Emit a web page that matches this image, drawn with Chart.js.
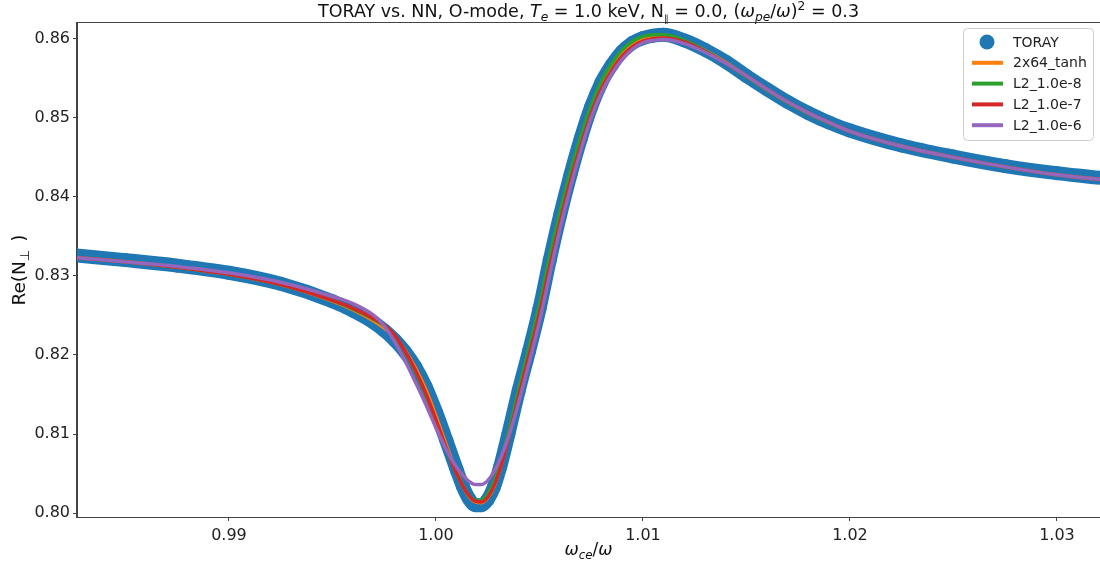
<!DOCTYPE html>
<html>
<head>
<meta charset="utf-8">
<script src="https://cdn.jsdelivr.net/npm/chart.js@4.4.0/dist/chart.umd.min.js"></script>
<style>
  html, body { margin: 0; padding: 0; background: #fff; }
  canvas { display: block; }
</style>
</head>
<body>
<canvas id="dispersion" width="1100" height="570"></canvas>
<script>
// omega_ce / omega
const xGrid = [0.9826, 0.9850, 0.9875, 0.9900, 0.9925, 0.9950, 0.9960, 0.9970, 0.9975, 0.9980,
  0.9985, 0.9990, 0.9995, 1.0000, 1.0005, 1.0010, 1.0013, 1.0016, 1.0019, 1.0022,
  1.0025, 1.0028, 1.0031, 1.0035, 1.0040, 1.0045, 1.0050, 1.0055, 1.0060, 1.0065,
  1.0070, 1.0075, 1.0080, 1.0085, 1.0090, 1.0095, 1.0100, 1.0105, 1.0110, 1.0120,
  1.0130, 1.0140, 1.0150, 1.0160, 1.0170, 1.0180, 1.0190, 1.0200, 1.0225, 1.0250,
  1.0275, 1.0300, 1.0325];

// Re(N_perp) per model
const torayRe = [0.8326, 0.8320, 0.8313, 0.8304, 0.8290, 0.8268, 0.8256, 0.8241, 0.8231, 0.8219,
  0.8204, 0.8185, 0.8160, 0.8128, 0.8092, 0.8055, 0.8034, 0.8018, 0.8010, 0.8010,
  0.8017, 0.8033, 0.8058, 0.8100, 0.8155, 0.8205, 0.8258, 0.8320, 0.8377, 0.8428,
  0.8474, 0.8514, 0.8545, 0.8567, 0.8584, 0.8595, 0.8601, 0.8604, 0.8605, 0.8598,
  0.8586, 0.8571, 0.8553, 0.8536, 0.8520, 0.8506, 0.8494, 0.8484, 0.8465, 0.8451,
  0.8439, 0.8430, 0.8423];
const tanhRe = [0.8323, 0.8318, 0.8311, 0.8302, 0.8289, 0.8268, 0.8257, 0.8243, 0.8234, 0.8223,
  0.8206, 0.8184, 0.8157, 0.8123, 0.8086, 0.8052, 0.8034, 0.8021, 0.8014, 0.8013,
  0.8019, 0.8033, 0.8056, 0.8095, 0.8150, 0.8202, 0.8255, 0.8316, 0.8372, 0.8424,
  0.8469, 0.8509, 0.8541, 0.8564, 0.8581, 0.8592, 0.8599, 0.8602, 0.8603, 0.8597,
  0.8585, 0.8570, 0.8553, 0.8536, 0.8520, 0.8506, 0.8494, 0.8483, 0.8464, 0.8450,
  0.8438, 0.8428, 0.8421];
const l2e8Re = [0.8323, 0.8318, 0.8311, 0.8302, 0.8289, 0.8269, 0.8258, 0.8245, 0.8237, 0.8224,
  0.8204, 0.8179, 0.8150, 0.8116, 0.8081, 0.8050, 0.8034, 0.8022, 0.8016, 0.8016,
  0.8024, 0.8039, 0.8062, 0.8102, 0.8157, 0.8210, 0.8264, 0.8326, 0.8382, 0.8433,
  0.8477, 0.8516, 0.8547, 0.8569, 0.8586, 0.8597, 0.8603, 0.8605, 0.8605, 0.8598,
  0.8585, 0.8569, 0.8552, 0.8535, 0.8519, 0.8505, 0.8493, 0.8483, 0.8464, 0.8450,
  0.8438, 0.8428, 0.8421];
const l2e7Re = [0.8323, 0.8318, 0.8311, 0.8302, 0.8289, 0.8269, 0.8259, 0.8246, 0.8238, 0.8225,
  0.8205, 0.8181, 0.8152, 0.8118, 0.8082, 0.8050, 0.8034, 0.8022, 0.8015, 0.8014,
  0.8020, 0.8034, 0.8056, 0.8094, 0.8148, 0.8199, 0.8252, 0.8312, 0.8368, 0.8420,
  0.8465, 0.8505, 0.8537, 0.8560, 0.8578, 0.8590, 0.8597, 0.8600, 0.8601, 0.8596,
  0.8584, 0.8569, 0.8553, 0.8536, 0.8520, 0.8506, 0.8494, 0.8483, 0.8464, 0.8450,
  0.8438, 0.8428, 0.8421];
const l2e6Re = [0.8323, 0.8318, 0.8312, 0.8304, 0.8292, 0.8274, 0.8265, 0.8250, 0.8237, 0.8217,
  0.8193, 0.8166, 0.8138, 0.8108, 0.8080, 0.8058, 0.8048, 0.8040, 0.8036, 0.8036,
  0.8041, 0.8052, 0.8068, 0.8096, 0.8140, 0.8190, 0.8242, 0.8302, 0.8360, 0.8412,
  0.8459, 0.8500, 0.8532, 0.8556, 0.8574, 0.8587, 0.8595, 0.8598, 0.8599, 0.8594,
  0.8583, 0.8569, 0.8553, 0.8536, 0.8520, 0.8506, 0.8494, 0.8483, 0.8464, 0.8450,
  0.8438, 0.8428, 0.8421];

const seriesNames = ["TORAY", "2x64_tanh", "L2_1.0e-8", "L2_1.0e-7", "L2_1.0e-6"];
const seriesColors = ["#1f77b4", "#ff7f0e", "#2ca02c", "#d62728", "#9467bd"];
const xTicks = [0.99, 1.00, 1.01, 1.02, 1.03];
const yTicks = [0.80, 0.81, 0.82, 0.83, 0.84, 0.85, 0.86];

const FONT = '"DejaVu Sans", "Liberation Sans", sans-serif';
const AXIS_COLOR = "#444";

const toPoints = (ys) => ys.map((y, i) => ({ x: xGrid[i], y: y }));

// draws text with mathtext-like italic / sub / superscript pieces
function drawRich(ctx, parts, size, x, y, align) {
  const sizeOf = p => p.scale ? size * p.scale : ((p.sub || p.sup) ? size * 0.7 : size);
  const fontOf = p => (p.it ? "italic " : "") + sizeOf(p) + "px " + FONT;
  let total = 0;
  parts.forEach(p => { ctx.font = fontOf(p); p.w = ctx.measureText(p.t).width; total += p.w; });
  let cx = align === "center" ? x - total / 2 : x;
  ctx.textAlign = "left";
  ctx.textBaseline = "alphabetic";
  parts.forEach(p => {
    ctx.font = fontOf(p);
    const dy = p.sub ? size * (p.drop || 0.22) : (p.sup ? -size * 0.4 : 0);
    ctx.fillText(p.t, cx, y + dy);
    cx += p.w;
  });
}

const decorPlugin = {
  id: "decor",
  afterDraw(chart) {
    const ctx = chart.ctx;
    const a = chart.chartArea;
    ctx.save();

    // spines
    ctx.strokeStyle = AXIS_COLOR;
    ctx.lineWidth = 1;
    ctx.strokeRect(Math.round(a.left) - 0.5, Math.round(a.top) - 0.5,
      Math.round(a.right - a.left) + 1, Math.round(a.bottom - a.top) + 1);

    // title
    ctx.fillStyle = "#111";
    drawRich(ctx, [
      { t: "TORAY vs. NN, O-mode, " },
      { t: "T", it: true }, { t: "e", it: true, sub: true },
      { t: " = 1.0 keV, N" }, { t: "\u2225", sub: true, scale: 0.55, drop: 0.3 },
      { t: " = 0.0, (" }, { t: "\u03c9", it: true }, { t: "pe", it: true, sub: true },
      { t: "/" }, { t: "\u03c9", it: true }, { t: ")" }, { t: "2", sup: true },
      { t: " = 0.3" }
    ], 17.5, (a.left + a.right) / 2, 17, "center");

    // x axis label
    drawRich(ctx, [
      { t: "\u03c9", it: true }, { t: "ce", it: true, sub: true },
      { t: "/" }, { t: "\u03c9", it: true }
    ], 17, (a.left + a.right) / 2, 555, "center");

    // y axis label
    ctx.save();
    ctx.translate(25, (a.top + a.bottom) / 2);
    ctx.rotate(-Math.PI / 2);
    drawRich(ctx, [{ t: "Re(N" }, { t: "\u22a5  ", sub: true }, { t: ")" }], 18.5, 0, 0, "center");
    ctx.restore();

    // legend
    const lx = 963, ly = 28, lw = 130, lh = 112;
    ctx.fillStyle = "rgba(255,255,255,0.8)";
    ctx.strokeStyle = "#cccccc";
    ctx.lineWidth = 1;
    ctx.beginPath();
    ctx.roundRect(lx + 0.5, ly + 0.5, lw, lh, 4);
    ctx.fill();
    ctx.stroke();
    ctx.font = "14px " + FONT;
    ctx.textAlign = "left";
    ctx.textBaseline = "middle";
    seriesNames.forEach((name, i) => {
      const cy = ly + 14 + i * 20.8;
      ctx.fillStyle = seriesColors[i];
      ctx.strokeStyle = seriesColors[i];
      if (i === 0) {
        ctx.beginPath();
        ctx.arc(987, cy, 7.5, 0, Math.PI * 2);
        ctx.fill();
      } else {
        ctx.lineWidth = 4;
        ctx.beginPath();
        ctx.moveTo(972, cy);
        ctx.lineTo(1003, cy);
        ctx.stroke();
      }
      ctx.fillStyle = "#222";
      ctx.fillText(name, 1013, cy + 1);
    });
    ctx.restore();
  }
};

const modelData = [torayRe, tanhRe, l2e8Re, l2e7Re, l2e6Re];
const datasets = modelData.map((ys, i) => {
  if (i === 0) {
    return {
      label: seriesNames[i],
      data: toPoints(ys),
      borderColor: seriesColors[i],
      backgroundColor: seriesColors[i],
      borderWidth: 14,
      borderCapStyle: "round",
      borderJoinStyle: "round",
      pointRadius: 7,
      pointBorderWidth: 0,
      pointBackgroundColor: seriesColors[i],
      cubicInterpolationMode: "monotone",
      order: 10
    };
  }
  return {
    label: seriesNames[i],
    data: toPoints(ys),
    borderColor: seriesColors[i],
    backgroundColor: seriesColors[i],
    borderWidth: 3.5,
    pointRadius: 0,
    cubicInterpolationMode: "monotone",
    order: 10 - i
  };
});

const tickFont = { family: FONT, size: 16 };
const gridStyle = { drawOnChartArea: false, drawTicks: true, tickLength: 4, color: AXIS_COLOR, lineWidth: 1 };

new Chart(document.getElementById("dispersion"), {
  type: "line",
  data: { datasets },
  options: {
    responsive: false,
    animation: false,
    layout: { autoPadding: false, padding: { top: 23, left: 0, right: 0, bottom: 0 } },
    plugins: {
      legend: { display: false },
      title: { display: false },
      tooltip: { enabled: false }
    },
    scales: {
      x: {
        type: "linear",
        min: 0.98266,
        max: 1.03208,
        afterBuildTicks: s => { s.ticks = xTicks.map(v => ({ value: v })); },
        afterFit: s => { s.height = 53; s.paddingLeft = 0; s.paddingRight = 0; },
        ticks: { color: "#222", font: tickFont, padding: 5, callback: v => v.toFixed(2), maxRotation: 0 },
        grid: gridStyle,
        border: { display: true, color: AXIS_COLOR, width: 1 }
      },
      y: {
        type: "linear",
        min: 0.7995,
        max: 0.8620,
        afterBuildTicks: s => { s.ticks = yTicks.map(v => ({ value: v })); },
        afterFit: s => { s.width = 77; },
        ticks: { color: "#222", font: tickFont, padding: 3, callback: v => v.toFixed(2) },
        grid: gridStyle,
        border: { display: true, color: AXIS_COLOR, width: 1 }
      }
    }
  },
  plugins: [decorPlugin]
});
</script>
</body>
</html>
